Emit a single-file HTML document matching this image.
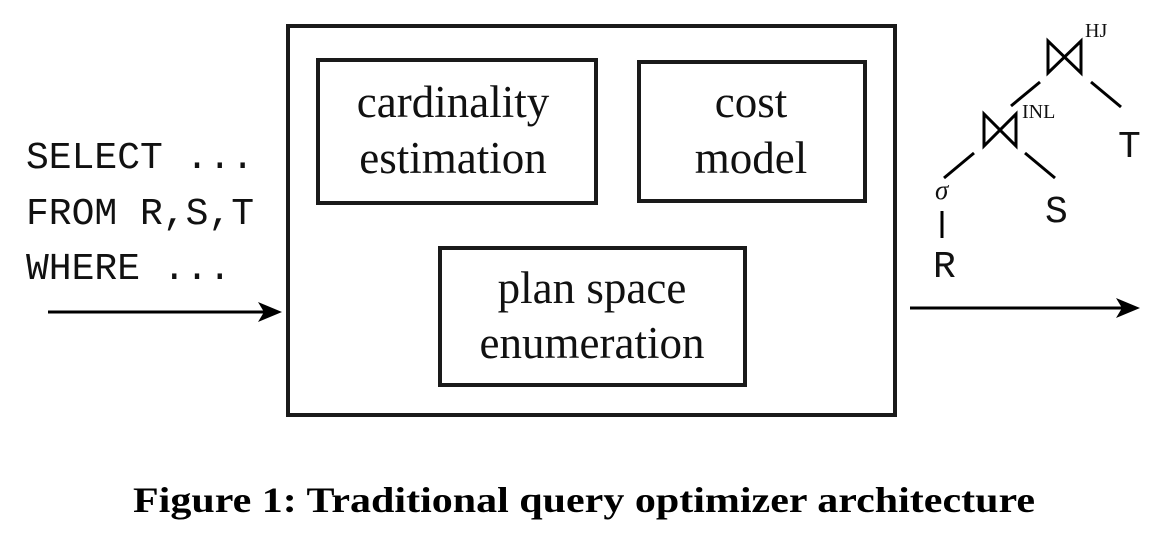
<!DOCTYPE html>
<html><head><meta charset="utf-8"><style>
html,body{margin:0;padding:0;background:#fff;}
svg{display:block;}
.s{font-family:"Liberation Serif",serif;}
.m{font-family:"Liberation Mono",monospace;}
</style></head><body>
<svg width="1176" height="554" viewBox="0 0 1176 554" xmlns="http://www.w3.org/2000/svg">
<g fill="none" stroke="#1a1a1a" stroke-width="4">
<rect x="288" y="26" width="607" height="389"/>
<rect x="318" y="60" width="278" height="143"/>
<rect x="639" y="62" width="226" height="139"/>
<rect x="440" y="248" width="305" height="137"/>
</g>
<g class="s" font-size="45" text-anchor="middle" fill="#111">
<text x="453" y="117">cardinality</text>
<text x="453" y="173">estimation</text>
<text x="751" y="117">cost</text>
<text x="751" y="173">model</text>
<text x="592" y="303">plan space</text>
<text x="592" y="358">enumeration</text>
</g>
<g class="m" font-size="38" fill="#111">
<text x="26" y="168">SELECT ...</text>
<text x="26" y="224">FROM R,S,T</text>
<text x="26" y="279">WHERE ...</text>
</g>
<g stroke="#000" stroke-width="3">
<line x1="48" y1="312" x2="270" y2="312"/>
<line x1="910" y1="308" x2="1128" y2="308"/>
</g>
<path d="M258,302 L282,312 L258,322 L264,312 Z" fill="#000"/>
<path d="M1116,298 L1140,308 L1116,318 L1122,308 Z" fill="#000"/>
<g fill="none" stroke="#000" stroke-width="3">
<path d="M1048,41 L1048,73 L1081,41 L1081,73 Z"/>
<path d="M984,114 L984,146 L1016,114 L1016,146 Z"/>
<line x1="1040" y1="82" x2="1011" y2="106"/>
<line x1="1091" y1="82" x2="1121" y2="107"/>
<line x1="974" y1="153" x2="944" y2="178"/>
<line x1="1025" y1="153" x2="1055" y2="178"/>
<line x1="942" y1="211" x2="942" y2="238"/>
</g>
<g class="s" fill="#111">
<text x="1085" y="37" font-size="20">HJ</text>
<text x="1022" y="118" font-size="20">INL</text>
<text x="935" y="199" font-size="27" font-style="italic">σ</text>
</g>
<g class="m" font-size="38" fill="#111">
<text x="1118" y="157">T</text>
<text x="1045" y="222">S</text>
<text x="933" y="277">R</text>
</g>
<text x="584" y="512" class="s" font-size="36" font-weight="bold" text-anchor="middle" textLength="902" lengthAdjust="spacingAndGlyphs" fill="#000">Figure 1: Traditional query optimizer architecture</text>
</svg>
</body></html>
